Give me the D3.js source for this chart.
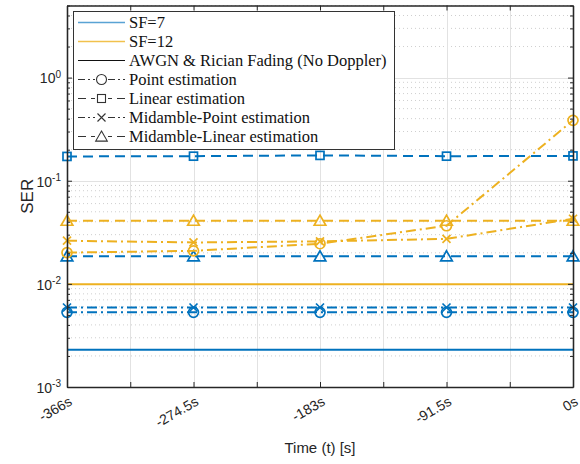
<!DOCTYPE html>
<html>
<head>
<meta charset="utf-8">
<script src="https://cdn.jsdelivr.net/npm/d3@7/dist/d3.min.js"></script>
<style>
  html, body { margin: 0; padding: 0; background: #fff; }
  svg { display: block; }
</style>
</head>
<body>
<svg id="chart" width="580" height="464"></svg>
<script>
// Sample times (s) and SER values per curve
const times = [-366, -274.5, -183, -91.5, 0];

const sf7Awgn      = [0.0023, 0.0023, 0.0023, 0.0023, 0.0023];
const sf7Point     = [0.0053, 0.0053, 0.0053, 0.0053, 0.0053];
const sf7Linear    = [0.172, 0.173, 0.176, 0.173, 0.174];
const sf7MidPoint  = [0.0059, 0.0059, 0.0059, 0.0059, 0.0059];
const sf7MidLinear = [0.0185, 0.0185, 0.0185, 0.0185, 0.0185];

const sf12Awgn      = [0.0099, 0.0099, 0.0099, 0.0099, 0.0099];
const sf12Point     = [0.0201, 0.0209, 0.0245, 0.0366, 0.385];
const sf12MidPoint  = [0.0262, 0.0252, 0.0258, 0.0273, 0.0428];
const sf12MidLinear = [0.041, 0.041, 0.041, 0.041, 0.041];

const xTicks = [-366, -320.25, -274.5, -228.75, -183, -137.25, -91.5, -45.75, 0];
const xTickLabels = ["-366s", "", "-274.5s", "", "-183s", "", "-91.5s", "", "0s"];
const yMajor = [1e-3, 1e-2, 1e-1, 1e0];
const yMajorExp = ["-3", "-2", "-1", "0"];

const legendLabels = [
  "SF=7", "SF=12", "AWGN & Rician Fading (No Doppler)",
  "Point estimation", "Linear estimation",
  "Midamble-Point estimation", "Midamble-Linear estimation"
];

const BLUE = "#0072BD", YELLOW = "#EDB120", AXIS = "#262626";
const DASH = "10,6", DASHDOT = "10,4,2,4";
const SANS = "Liberation Sans, Arial, sans-serif";

const svg = d3.select("#chart");
const L = 67, R = 573, T = 5.5, B = 387;

const x = d3.scaleLinear().domain([-366, 0]).range([L, R]);
const y = d3.scaleLog().domain([1e-3, 5]).range([B, T]);

// minor decade ticks (2..9 per decade, up to the top of the axis)
const yMinor = [];
yMajor.forEach(d => { for (let k = 2; k <= 9; k++) { const v = d * k; if (v <= 5) yMinor.push(v); } });

// ---- grid ----
const grid = svg.append("g");
grid.selectAll(".ming").data(yMinor).join("line")
  .attr("x1", L).attr("x2", R)
  .attr("y1", d => y(d)).attr("y2", d => y(d))
  .attr("stroke", "#cfcfcf").attr("stroke-width", 1).attr("stroke-dasharray", "1,3");
grid.selectAll(".majg").data(yMajor).join("line")
  .attr("x1", L).attr("x2", R)
  .attr("y1", d => Math.round(y(d)) + 0.5).attr("y2", d => Math.round(y(d)) + 0.5)
  .attr("stroke", "#e2e2e2").attr("stroke-width", 1);
grid.selectAll(".xg").data(xTicks.slice(1, -1)).join("line")
  .attr("x1", d => Math.round(x(d)) + 0.5).attr("x2", d => Math.round(x(d)) + 0.5)
  .attr("y1", T).attr("y2", B)
  .attr("stroke", "#e2e2e2").attr("stroke-width", 1);

// ---- series ----
const line = d3.line().x((d, i) => x(times[i])).y(d => y(d));

function series(vals, color, dash, marker, width) {
  const g = svg.append("g");
  g.append("path").datum(vals).attr("d", line)
    .attr("fill", "none").attr("stroke", color).attr("stroke-width", width || 2)
    .attr("stroke-dasharray", dash || null);
  if (marker) {
    vals.forEach((v, i) => drawMarker(g, marker, x(times[i]), y(v), color));
  }
}

function drawMarker(g, type, cx, cy, color) {
  const s = g.append("g").attr("transform", `translate(${cx},${cy})`)
    .attr("fill", "none").attr("stroke", color).attr("stroke-width", 1.7);
  if (type === "circle") s.append("circle").attr("r", 5);
  else if (type === "square") s.append("rect").attr("x", -4).attr("y", -4).attr("width", 8).attr("height", 8);
  else if (type === "triangle") s.append("path").attr("d", "M0,-5.5L5.8,4.6L-5.8,4.6Z");
  else if (type === "x") s.append("path").attr("d", "M-4,-4L4,4M-4,4L4,-4");
}

series(sf7Awgn, BLUE, null, null, 2);
series(sf12Awgn, YELLOW, null, null, 2);
series(sf7Point, BLUE, DASHDOT, "circle");
series(sf7MidPoint, BLUE, DASHDOT, "x");
series(sf7Linear, BLUE, DASH, "square");
series(sf7MidLinear, BLUE, DASH, "triangle");
series(sf12MidLinear, YELLOW, DASH, "triangle");
series(sf12MidPoint, YELLOW, DASHDOT, "x");
series(sf12Point, YELLOW, DASHDOT, "circle");

// ---- axes ----
const axG = svg.append("g").attr("color", AXIS);
const axBottom = axG.append("g").attr("transform", `translate(0,${B})`)
  .call(d3.axisBottom(x).tickValues(xTicks).tickSizeInner(-5).tickSizeOuter(0).tickFormat(() => ""));
axG.append("g").attr("transform", `translate(0,${T})`)
  .call(d3.axisTop(x).tickValues(xTicks).tickSizeInner(-5).tickSizeOuter(0).tickFormat(() => ""));
const axLeft = axG.append("g").attr("transform", `translate(${L},0)`)
  .call(d3.axisLeft(y).tickValues(yMajor).tickSizeInner(-5).tickSizeOuter(0).tickFormat(() => ""));
axG.append("g").attr("transform", `translate(${L},0)`)
  .call(d3.axisLeft(y).tickValues(yMinor).tickSizeInner(-3).tickSizeOuter(0).tickFormat(() => ""));
axG.append("g").attr("transform", `translate(${R},0)`)
  .call(d3.axisRight(y).tickValues(yMajor).tickSizeInner(-5).tickSizeOuter(0).tickFormat(() => ""));
axG.append("g").attr("transform", `translate(${R},0)`)
  .call(d3.axisRight(y).tickValues(yMinor).tickSizeInner(-3).tickSizeOuter(0).tickFormat(() => ""));
axG.selectAll(".domain").attr("stroke-width", 1.3);
axG.selectAll(".tick line").attr("stroke-width", 1);

// x tick labels, rotated
axBottom.selectAll(".tick").each(function (d, i) {
  const lab = xTickLabels[i];
  if (!lab) return;
  d3.select(this).append("text")
    .attr("transform", "translate(3,13) rotate(-30)")
    .attr("text-anchor", "end").attr("dy", "0.35em")
    .attr("fill", AXIS).attr("font-family", SANS)
    .attr("font-size", 14).text(lab);
});

// y tick labels: 10^n
axLeft.selectAll(".tick").each(function (d, i) {
  const t = d3.select(this).append("text")
    .attr("x", -6).attr("dy", "0.38em").attr("text-anchor", "end")
    .attr("fill", AXIS).attr("font-family", SANS)
    .attr("font-size", 14);
  t.append("tspan").text("10");
  t.append("tspan").attr("dy", "-0.55em").attr("font-size", 10).text(yMajorExp[i]);
});

// axis titles
svg.append("text").attr("x", (L + R) / 2).attr("y", 453).attr("text-anchor", "middle")
  .attr("fill", AXIS).attr("font-family", SANS)
  .attr("font-size", 15).text("Time (t) [s]");
svg.append("text").attr("transform", `translate(33,${(T + B) / 2}) rotate(-90)`)
  .attr("text-anchor", "middle")
  .attr("fill", AXIS).attr("font-family", SANS)
  .attr("font-size", 17).text("SER");

// ---- legend ----
const leg = svg.append("g");
leg.append("rect").attr("x", 73.5).attr("y", 11.5).attr("width", 321).attr("height", 138)
  .attr("fill", "#fff").attr("stroke", "#333").attr("stroke-width", 1);
const legStyles = [
  { color: BLUE, dash: null, marker: null, w: 1.4, o: 0.65 },
  { color: YELLOW, dash: null, marker: null, w: 1.4, o: 0.8 },
  { color: "#111", dash: null, marker: null, w: 1.2, o: 1 },
  { color: "#333", dash: "7,3,2,3", marker: "circle", w: 1.2, o: 1 },
  { color: "#333", dash: "8,5", marker: "square", w: 1.2, o: 1 },
  { color: "#333", dash: "7,3,2,3", marker: "x", w: 1.2, o: 1 },
  { color: "#333", dash: "8,5", marker: "triangle", w: 1.2, o: 1 }
];
legendLabels.forEach((lab, i) => {
  const cy = 22.5 + i * 19;
  const st = legStyles[i];
  leg.append("line").attr("x1", 78).attr("x2", 125).attr("y1", cy).attr("y2", cy)
    .attr("stroke", st.color).attr("stroke-width", st.w).attr("stroke-opacity", st.o)
    .attr("stroke-dasharray", st.dash);
  if (st.marker) {
    leg.append("rect").attr("x", 95).attr("y", cy - 6).attr("width", 13).attr("height", 12).attr("fill", "#fff");
    const g = leg.append("g");
    drawMarker(g, st.marker, 101.5, cy, st.color);
    g.selectAll("*").attr("stroke-width", 1.1);
  }
  leg.append("text").attr("x", 129).attr("y", cy).attr("dy", "0.35em")
    .attr("fill", "#111").attr("font-family", "Liberation Serif, Times New Roman, serif")
    .attr("font-size", 16.5).text(lab);
});
</script>
</body>
</html>
